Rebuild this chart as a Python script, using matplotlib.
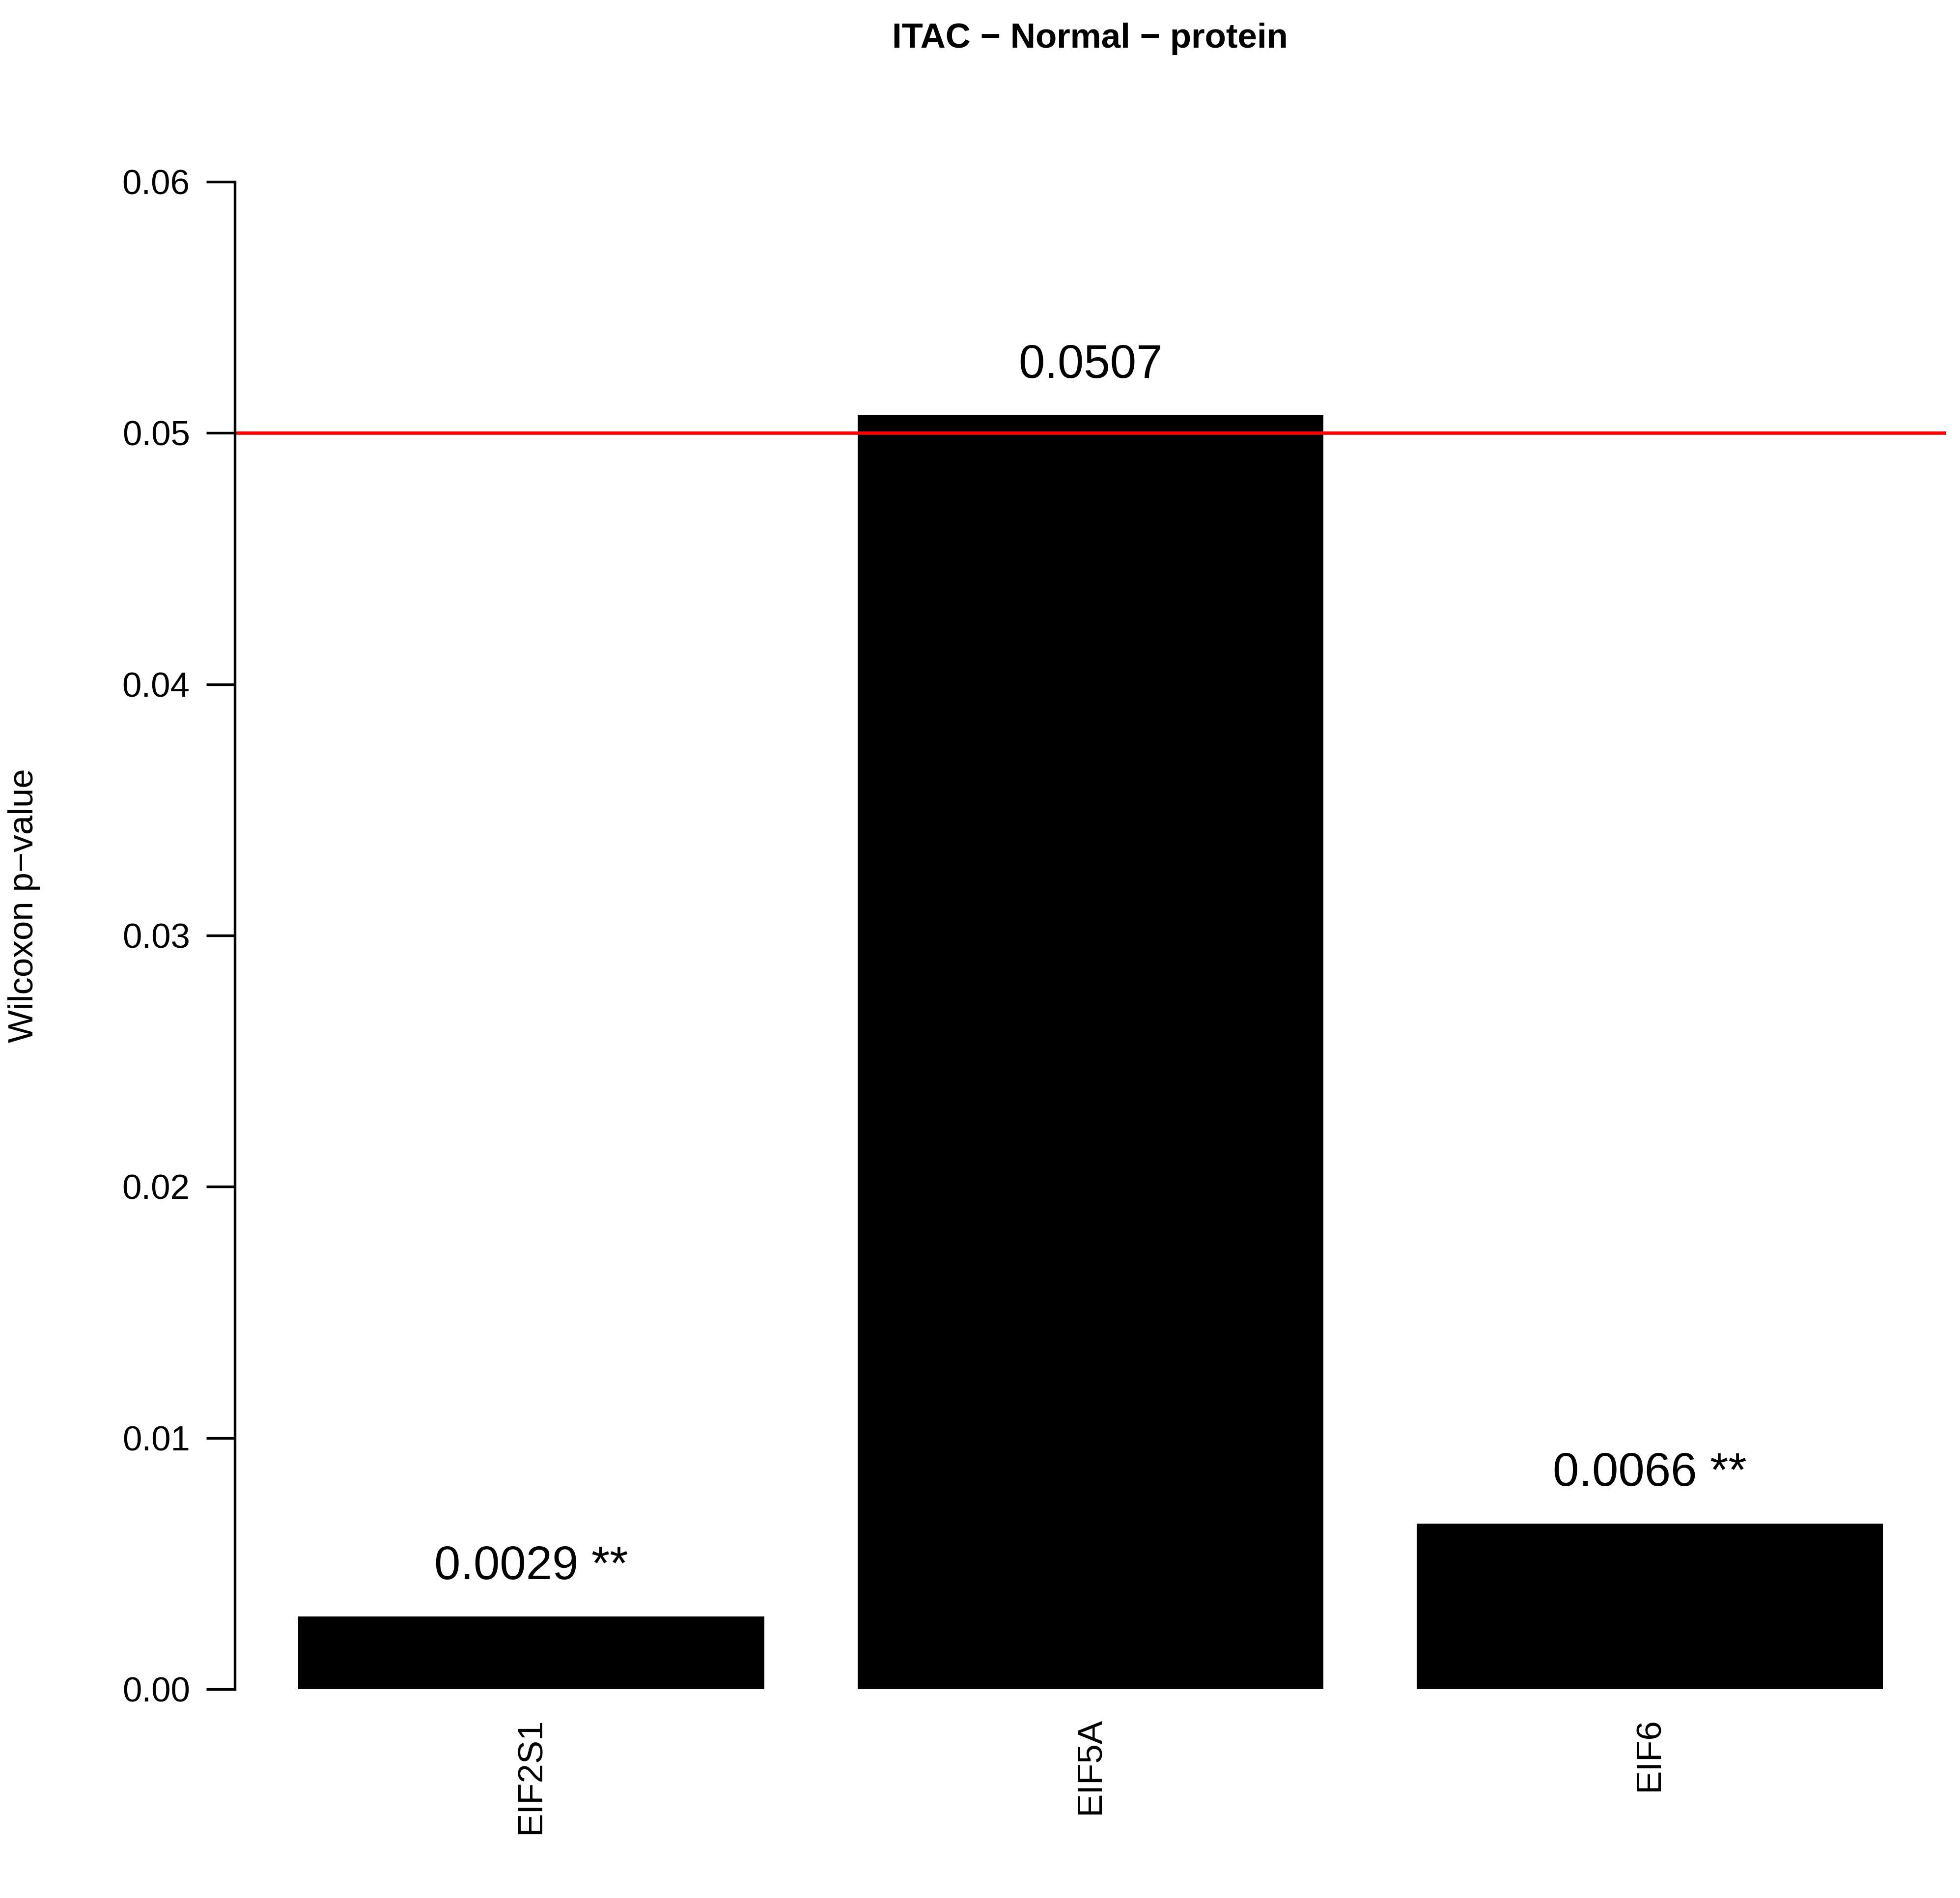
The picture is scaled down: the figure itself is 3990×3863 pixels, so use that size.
import matplotlib.pyplot as plt

plt.rcParams['font.family'] = ['Liberation Sans', 'DejaVu Sans']

genes = ['EIF2S1', 'EIF5A', 'EIF6']
pvalues = [0.0029, 0.0507, 0.0066]
labels = ['0.0029 **', '0.0507', '0.0066 **']
yticks = [0.00, 0.01, 0.02, 0.03, 0.04, 0.05, 0.06]

# R barplot layout: width 1, space 0.2
xpos = [0.7 + 1.2 * i for i in range(len(genes))]

fig = plt.figure(figsize=(13.3, 12.877), dpi=300)
ax = fig.add_axes([0.1199, 0.110, 0.873, 0.826])

ax.bar(xpos, pvalues, width=1.0, color='black')
ax.axhline(0.05, color='red', lw=1.6)

for x, v, t in zip(xpos, pvalues, labels):
    ax.text(x, v + 0.0011, t, ha='center', va='bottom', fontsize=23)

ax.set_xlim(0.064, 3.736)
ax.set_ylim(0, 0.0624)
ax.set_yticks(yticks)
ax.set_yticklabels([f'{t:.2f}' for t in yticks], fontsize=17)
ax.set_xticks(xpos)
ax.set_xticklabels(genes, rotation=90, fontsize=17)
ax.tick_params(axis='x', length=0, pad=14)
ax.tick_params(axis='y', length=14, width=1.3, pad=8)

for s in ['top', 'right', 'bottom']:
    ax.spines[s].set_visible(False)
ax.spines['left'].set_bounds(0, 0.06)
ax.spines['left'].set_linewidth(1.3)

ax.set_ylabel('Wilcoxon p\u2212value', fontsize=17, labelpad=40)
fig.suptitle('ITAC \u2212 Normal \u2212 protein', fontsize=17, fontweight='bold', x=0.556, y=0.988)

fig.savefig('out.png', dpi=300)
